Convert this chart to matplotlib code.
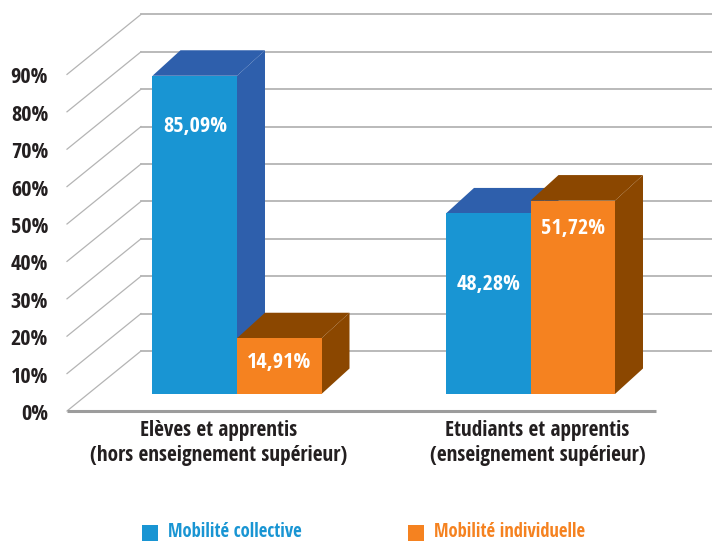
import matplotlib
matplotlib.use("Agg")
import matplotlib.pyplot as plt
from matplotlib.patches import Polygon, Rectangle

plt.rcParams['font.family'] = ['Open Sans Condensed', 'Fira Sans Condensed', 'Roboto Condensed', 'Open Sans', 'DejaVu Sans']

categories = ["Elèves et apprentis\n(hors enseignement supérieur)",
              "Etudiants et apprentis\n(enseignement supérieur)"]
series_names = ["Mobilité collective", "Mobilité individuelle"]
collective = [85.09, 48.28]
individuelle = [14.91, 51.72]
y_ticks = [0, 10, 20, 30, 40, 50, 60, 70, 80, 90]

# offset of the value text below the top of each bar, in %
collective_label_drop = [13.6, 19.1]
individuelle_label_drop = [6.6, 7.5]

BLUE, BLUE_DARK = "#1995d3", "#2e5fac"
ORANGE, ORANGE_DARK = "#f58220", "#8b4700"
TEXT = "#231f20"
GRID = "#b4b4b4"

W, H = 712, 542
PX_X = 293.5       # pixels between the two groups
PX_Y = 3.74        # pixels per percent
X0, Y0 = 237, 394  # pixel of group 0 centre / bar base

fig = plt.figure(figsize=(W / 100, H / 100), dpi=100)
ax = fig.add_axes([0, 0, 1, 1])
ax.set_xlim(-X0 / PX_X, (W - X0) / PX_X)
ax.set_ylim((Y0 - H) / PX_Y, Y0 / PX_Y)
ax.axis("off")


def px_x(n):
    return n / PX_X


def px_y(n):
    return n / PX_Y


# floor / wall grid
left_front, left_back = px_x(67 - X0), px_x(141 - X0)
right_back = px_x(W - X0)
front_y, back_y = px_y(-17), px_y(43)
for t in y_ticks:
    ax.plot([left_front, left_back], [t + front_y, t + back_y], color=GRID, lw=0.9, zorder=1)
    ax.plot([left_back, right_back], [t + back_y, t + back_y], color=GRID, lw=1.3, zorder=1)
    ax.text(px_x(48 - X0), t + front_y + px_y(-3.5), f"{t}%", ha="right", va="center",
            fontsize=16, fontweight="bold", color=TEXT)
ax.plot([left_front, px_x(656 - X0)], [front_y, front_y], color="#9c9c9c", lw=2.2, zorder=2,
        solid_capstyle="butt")

width = px_x(84.5)
dx, dy = px_x(28), px_y(25.5)


def bar3d(x, value, face, dark):
    ax.bar(x, value, width=width, align="edge", color=face, lw=0, zorder=5)
    ax.add_patch(Polygon([(x, value), (x + dx, value + dy), (x + width + dx, value + dy),
                          (x + width, value)], color=dark, lw=0, zorder=4))
    ax.add_patch(Polygon([(x + width, 0), (x + width + dx, dy), (x + width + dx, value + dy),
                          (x + width, value)], color=dark, lw=0, zorder=4))


for i in range(len(categories)):
    bar3d(i - width, collective[i], BLUE, BLUE_DARK)
    bar3d(i, individuelle[i], ORANGE, ORANGE_DARK)
    ax.text(i - width / 2 + px_x(1 - i), collective[i] - collective_label_drop[i],
            f"{collective[i]:.2f}%".replace(".", ","), ha="center", va="center",
            fontsize=16, fontweight="bold", color="white", zorder=6)
    ax.text(i + width / 2, individuelle[i] - individuelle_label_drop[i],
            f"{individuelle[i]:.2f}%".replace(".", ","), ha="center", va="center",
            fontsize=16, fontweight="bold", color="white", zorder=6)
    ax.text(i + px_x(-18 + 25 * i), px_y(-49), categories[i], ha="center", va="center",
            fontsize=15.3, fontweight="bold", color=TEXT, linespacing=1.3)

# legend
for name, color, sx in zip(series_names, [BLUE, ORANGE], [142, 408]):
    ax.add_patch(Rectangle((px_x(sx - X0), px_y(Y0 - 541)), px_x(16), px_y(16), color=color, lw=0))
    ax.text(px_x(sx + 26 - X0), px_y(Y0 - 537), name, ha="left", va="baseline",
            fontsize=13.4, fontweight="bold", color=color)

fig.savefig("out.png", dpi=100)
